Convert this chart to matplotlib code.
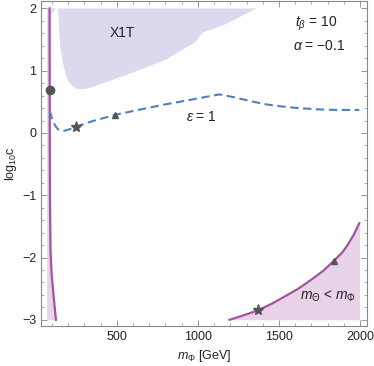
import matplotlib
matplotlib.use('Agg')
import matplotlib.pyplot as plt
import numpy as np
from matplotlib.ticker import MultipleLocator

plt.rcParams['font.family'] = ['Liberation Sans', 'DejaVu Sans']
plt.rcParams['mathtext.fontset'] = 'custom'
plt.rcParams['mathtext.rm'] = 'Liberation Sans'
plt.rcParams['mathtext.it'] = 'Liberation Sans:italic'

# X1T excluded region boundary (m_Phi [GeV], log10 c)
x1t_m = [139, 142, 146, 152, 160, 170, 182, 200, 225, 255, 293, 340, 395, 600, 806, 900, 980, 1005, 1030, 1175, 1360]
x1t_c = [2.0, 1.8, 1.6, 1.4, 1.25, 1.1, 0.96, 0.84, 0.76, 0.71, 0.70, 0.73, 0.78, 0.97, 1.18, 1.33, 1.45, 1.53, 1.61, 1.75, 2.0]

# small sliver near the top left
sliver_m = [95, 125, 98]
sliver_c = [2.0, 2.0, 1.9]

# purple boundary (low mass)
low_m = [86, 87, 88, 92, 98, 110, 125]
low_c = [2.0, 0.0, -1.0, -1.9, -2.25, -2.6, -3.0]
low_fill_left = 68

# epsilon = 1 curve
eps_m = [88, 100, 120, 137, 170, 210, 248, 350, 488, 650, 800, 949, 1050, 1133, 1230, 1328, 1420, 1502, 1620, 1736, 1850, 1995]
eps_c = [0.35, 0.24, 0.12, 0.06, 0.03, 0.06, 0.10, 0.19, 0.29, 0.38, 0.46, 0.53, 0.58, 0.62, 0.57, 0.51, 0.46, 0.43, 0.40, 0.38, 0.37, 0.37]

# m_Theta < m_Phi region boundary
theta_m = [1195, 1280, 1369, 1450, 1533, 1620, 1697, 1770, 1840, 1890, 1923, 1960, 1995]
theta_c = [-3.0, -2.93, -2.85, -2.75, -2.63, -2.50, -2.36, -2.22, -2.05, -1.92, -1.80, -1.64, -1.45]

# benchmark markers
dot_pt = (86, 0.69)
star_pts = [(248, 0.10), (1369, -2.85)]
tri_pts = [(488, 0.29), (1840, -2.05)]

fig = plt.figure(figsize=(3.74, 3.66), dpi=100)
ax = fig.add_axes([0.1096, 0.1093, 0.8709, 0.8880])

lav = '#dcd9ee'
pink = '#e8d3e8'
purple = '#a2559e'
blue = '#4f80bf'
mk = '#555555'

ax.fill(x1t_m + [x1t_m[-1], x1t_m[0]], x1t_c + [2.0, 2.0], color=lav, lw=0)
ax.fill(sliver_m, sliver_c, color=lav, lw=0)

# low mass region
ax.fill_betweenx(low_c, [low_fill_left] * len(low_c), low_m, color=pink, lw=0)
ax.plot(low_m, low_c, color=purple, lw=1.6)

# high mass region
ax.fill_between(theta_m, theta_c, -3.0, color=pink, lw=0)
ax.fill_between([theta_m[-1], 2000], [theta_c[-1], theta_c[-1]], -3.0, color=pink, lw=0)
ax.plot(theta_m, theta_c, color=purple, lw=1.6)

ax.plot(eps_m, eps_c, color=blue, lw=1.5, ls=(0, (4, 2.2)))

ax.plot(*dot_pt, 'o', color=mk, ms=6, zorder=5)
for p in star_pts:
    ax.plot(*p, '*', color=mk, ms=8, zorder=5)
for p in tri_pts:
    ax.plot(*p, '^', color=mk, ms=5, zorder=5)

ax.text(537, 1.6, 'X1T', fontsize=10, ha='center', va='center', color='#222222')
ax.text(1728, 1.76, r'$t_{\beta}$ = 10', fontsize=10, ha='center', va='center', color='#222222')
ax.text(1748, 1.39, r'$\alpha$ = $-$0.1', fontsize=10, ha='center', va='center', color='#222222')
ax.text(1020, 0.26, r'$\epsilon$ = 1', fontsize=10, ha='center', va='center', color='#222222')
ax.text(1800, -2.63, r'$m_{\Theta}$ < $m_{\Phi}$', fontsize=10, ha='center', va='center', color='#222222')

ax.set_xlim(33, 2041)
ax.set_ylim(-3.1, 2.12)
ax.xaxis.set_major_locator(MultipleLocator(500))
ax.xaxis.set_minor_locator(MultipleLocator(100))
ax.yaxis.set_major_locator(MultipleLocator(1))
ax.yaxis.set_minor_locator(MultipleLocator(0.2))
ax.tick_params(which='both', direction='in', top=True, right=True, color='#888888',
               labelsize=9, labelcolor='#222222')
ax.tick_params(which='major', length=4, width=0.6)
ax.tick_params(which='minor', length=2.2, width=0.5)
for s in ax.spines.values():
    s.set_color('#888888')
    s.set_linewidth(0.8)

ax.set_xlabel(r'$m_{\Phi}$ [GeV]', fontsize=9, color='#222222', labelpad=4)
ax.set_ylabel(r'log$_{10}$c', fontsize=9, color='#222222', labelpad=2)

fig.savefig('out.png', dpi=100)
